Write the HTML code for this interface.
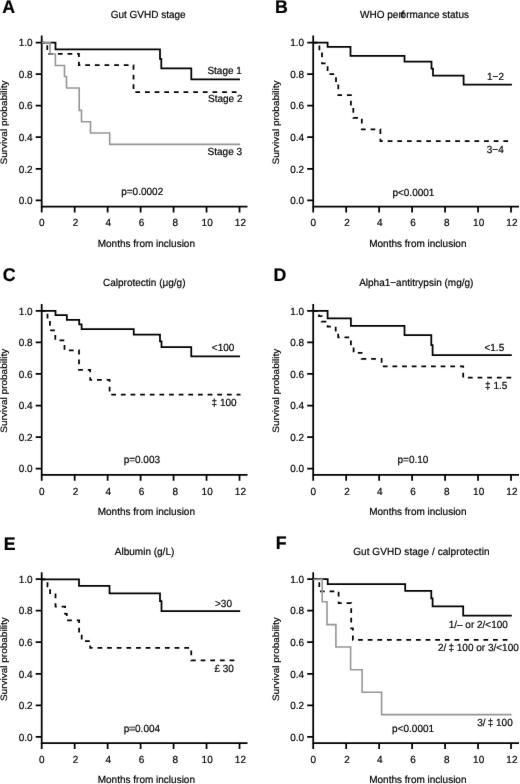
<!DOCTYPE html>
<html><head><meta charset="utf-8"><title>Survival curves</title>
<style>
html,body{margin:0;padding:0;background:#fff;}
body{width:520px;height:784px;overflow:hidden;}
svg{display:block;}
text{font-family:"Liberation Sans", sans-serif;fill:#000;stroke:#000;stroke-width:0.2;text-rendering:geometricPrecision;}
</style></head>
<body>
<svg width="520" height="784" viewBox="0 0 520 784">
<defs><filter id="soft" filterUnits="userSpaceOnUse" x="0" y="0" width="520" height="784"><feConvolveMatrix order="3" kernelMatrix="0.0100 0.0400 0.0100 0.0400 0.8000 0.0400 0.0100 0.0400 0.0100" edgeMode="none" preserveAlpha="false"/></filter></defs>
<rect width="520" height="784" fill="#fff"/>
<g filter="url(#soft)">
<g transform="translate(0,0)">
<text transform="translate(2.30 12.60) scale(1 1.03)" font-size="17.8" font-weight="bold">A</text>
<text transform="translate(148.15 18.40) scale(1 1.035)" font-size="10" text-anchor="middle">Gut GVHD stage</text>
<path d="M41.7,35.6V206.5M40.825,206.5H247.5" stroke="#000" stroke-width="1.75" fill="none"/>
<path d="M35.7,42.50H41.7M35.7,74.07H41.7M35.7,105.64H41.7M35.7,137.21H41.7M35.7,168.78H41.7M35.7,200.35H41.7M41.70,206.5V212.5M74.67,206.5V212.5M107.64,206.5V212.5M140.61,206.5V212.5M173.58,206.5V212.5M206.55,206.5V212.5M239.52,206.5V212.5" stroke="#000" stroke-width="1.75" fill="none"/>
<text transform="translate(32.55 46.30) scale(1 1.035)" font-size="10" text-anchor="end">1.0</text>
<text transform="translate(32.55 77.87) scale(1 1.035)" font-size="10" text-anchor="end">0.8</text>
<text transform="translate(32.55 109.44) scale(1 1.035)" font-size="10" text-anchor="end">0.6</text>
<text transform="translate(32.55 141.01) scale(1 1.035)" font-size="10" text-anchor="end">0.4</text>
<text transform="translate(32.55 172.58) scale(1 1.035)" font-size="10" text-anchor="end">0.2</text>
<text transform="translate(32.55 204.15) scale(1 1.035)" font-size="10" text-anchor="end">0.0</text>
<text transform="translate(41.70 226.20) scale(1 1.035)" font-size="10" text-anchor="middle">0</text>
<text transform="translate(75.47 226.20) scale(1 1.035)" font-size="10" text-anchor="middle">2</text>
<text transform="translate(108.34 226.20) scale(1 1.035)" font-size="10" text-anchor="middle">4</text>
<text transform="translate(141.51 226.20) scale(1 1.035)" font-size="10" text-anchor="middle">6</text>
<text transform="translate(175.18 226.20) scale(1 1.035)" font-size="10" text-anchor="middle">8</text>
<text transform="translate(207.15 226.20) scale(1 1.035)" font-size="10" text-anchor="middle">10</text>
<text transform="translate(240.42 226.20) scale(1 1.035)" font-size="10" text-anchor="middle">12</text>
<text transform="translate(146.35 246.80) scale(1 1.035)" font-size="10" text-anchor="middle">Months from inclusion</text>
<text transform="translate(6.90 122.50) rotate(-90) scale(1 0.93)" font-size="10" text-anchor="middle">Survival probability</text>
</g>
<g transform="translate(271.5,0)">
<text transform="translate(3.40 12.60) scale(1 1.03)" font-size="17.8" font-weight="bold">B</text>
<text transform="translate(143.00 18.40) scale(1 1.035)" font-size="10" text-anchor="middle">WHO per<tspan dx="-0.3">f</tspan><tspan dx="-3.6">o</tspan>rmance status</text>
<path d="M41.7,35.6V206.5M40.825,206.5H247.5" stroke="#000" stroke-width="1.75" fill="none"/>
<path d="M35.7,42.50H41.7M35.7,74.07H41.7M35.7,105.64H41.7M35.7,137.21H41.7M35.7,168.78H41.7M35.7,200.35H41.7M41.70,206.5V212.5M74.67,206.5V212.5M107.64,206.5V212.5M140.61,206.5V212.5M173.58,206.5V212.5M206.55,206.5V212.5M239.52,206.5V212.5" stroke="#000" stroke-width="1.75" fill="none"/>
<text transform="translate(32.55 46.30) scale(1 1.035)" font-size="10" text-anchor="end">1.0</text>
<text transform="translate(32.55 77.87) scale(1 1.035)" font-size="10" text-anchor="end">0.8</text>
<text transform="translate(32.55 109.44) scale(1 1.035)" font-size="10" text-anchor="end">0.6</text>
<text transform="translate(32.55 141.01) scale(1 1.035)" font-size="10" text-anchor="end">0.4</text>
<text transform="translate(32.55 172.58) scale(1 1.035)" font-size="10" text-anchor="end">0.2</text>
<text transform="translate(32.55 204.15) scale(1 1.035)" font-size="10" text-anchor="end">0.0</text>
<text transform="translate(41.70 226.20) scale(1 1.035)" font-size="10" text-anchor="middle">0</text>
<text transform="translate(75.47 226.20) scale(1 1.035)" font-size="10" text-anchor="middle">2</text>
<text transform="translate(108.34 226.20) scale(1 1.035)" font-size="10" text-anchor="middle">4</text>
<text transform="translate(141.51 226.20) scale(1 1.035)" font-size="10" text-anchor="middle">6</text>
<text transform="translate(175.18 226.20) scale(1 1.035)" font-size="10" text-anchor="middle">8</text>
<text transform="translate(207.15 226.20) scale(1 1.035)" font-size="10" text-anchor="middle">10</text>
<text transform="translate(240.42 226.20) scale(1 1.035)" font-size="10" text-anchor="middle">12</text>
<text transform="translate(146.35 246.80) scale(1 1.035)" font-size="10" text-anchor="middle">Months from inclusion</text>
<text transform="translate(7.50 122.50) rotate(-90) scale(1 0.93)" font-size="10" text-anchor="middle">Survival probability</text>
</g>
<g transform="translate(0,268.3)">
<text transform="translate(2.85 12.90) scale(1 1.03)" font-size="17.8" font-weight="bold">C</text>
<text transform="translate(144.25 17.35) scale(1 1.035)" font-size="10" text-anchor="middle">Calprotectin (μg/g)</text>
<path d="M41.7,35.6V206.5M40.825,206.5H247.5" stroke="#000" stroke-width="1.75" fill="none"/>
<path d="M35.7,42.50H41.7M35.7,74.07H41.7M35.7,105.64H41.7M35.7,137.21H41.7M35.7,168.78H41.7M35.7,200.35H41.7M41.70,206.5V212.5M74.67,206.5V212.5M107.64,206.5V212.5M140.61,206.5V212.5M173.58,206.5V212.5M206.55,206.5V212.5M239.52,206.5V212.5" stroke="#000" stroke-width="1.75" fill="none"/>
<text transform="translate(32.55 46.30) scale(1 1.035)" font-size="10" text-anchor="end">1.0</text>
<text transform="translate(32.55 77.87) scale(1 1.035)" font-size="10" text-anchor="end">0.8</text>
<text transform="translate(32.55 109.44) scale(1 1.035)" font-size="10" text-anchor="end">0.6</text>
<text transform="translate(32.55 141.01) scale(1 1.035)" font-size="10" text-anchor="end">0.4</text>
<text transform="translate(32.55 172.58) scale(1 1.035)" font-size="10" text-anchor="end">0.2</text>
<text transform="translate(32.55 204.15) scale(1 1.035)" font-size="10" text-anchor="end">0.0</text>
<text transform="translate(41.70 226.20) scale(1 1.035)" font-size="10" text-anchor="middle">0</text>
<text transform="translate(75.47 226.20) scale(1 1.035)" font-size="10" text-anchor="middle">2</text>
<text transform="translate(108.34 226.20) scale(1 1.035)" font-size="10" text-anchor="middle">4</text>
<text transform="translate(141.51 226.20) scale(1 1.035)" font-size="10" text-anchor="middle">6</text>
<text transform="translate(175.18 226.20) scale(1 1.035)" font-size="10" text-anchor="middle">8</text>
<text transform="translate(207.15 226.20) scale(1 1.035)" font-size="10" text-anchor="middle">10</text>
<text transform="translate(240.42 226.20) scale(1 1.035)" font-size="10" text-anchor="middle">12</text>
<text transform="translate(146.35 246.80) scale(1 1.035)" font-size="10" text-anchor="middle">Months from inclusion</text>
<text transform="translate(6.90 122.50) rotate(-90) scale(1 0.93)" font-size="10" text-anchor="middle">Survival probability</text>
</g>
<g transform="translate(271.5,268.3)">
<text transform="translate(1.95 12.30) scale(1 1.03)" font-size="17.8" font-weight="bold">D</text>
<text transform="translate(144.75 17.60) scale(1 1.035)" font-size="10" text-anchor="middle">Alpha1−antitrypsin (mg/g)</text>
<path d="M41.7,35.6V206.5M40.825,206.5H247.5" stroke="#000" stroke-width="1.75" fill="none"/>
<path d="M35.7,42.50H41.7M35.7,74.07H41.7M35.7,105.64H41.7M35.7,137.21H41.7M35.7,168.78H41.7M35.7,200.35H41.7M41.70,206.5V212.5M74.67,206.5V212.5M107.64,206.5V212.5M140.61,206.5V212.5M173.58,206.5V212.5M206.55,206.5V212.5M239.52,206.5V212.5" stroke="#000" stroke-width="1.75" fill="none"/>
<text transform="translate(32.55 46.30) scale(1 1.035)" font-size="10" text-anchor="end">1.0</text>
<text transform="translate(32.55 77.87) scale(1 1.035)" font-size="10" text-anchor="end">0.8</text>
<text transform="translate(32.55 109.44) scale(1 1.035)" font-size="10" text-anchor="end">0.6</text>
<text transform="translate(32.55 141.01) scale(1 1.035)" font-size="10" text-anchor="end">0.4</text>
<text transform="translate(32.55 172.58) scale(1 1.035)" font-size="10" text-anchor="end">0.2</text>
<text transform="translate(32.55 204.15) scale(1 1.035)" font-size="10" text-anchor="end">0.0</text>
<text transform="translate(41.70 226.20) scale(1 1.035)" font-size="10" text-anchor="middle">0</text>
<text transform="translate(75.47 226.20) scale(1 1.035)" font-size="10" text-anchor="middle">2</text>
<text transform="translate(108.34 226.20) scale(1 1.035)" font-size="10" text-anchor="middle">4</text>
<text transform="translate(141.51 226.20) scale(1 1.035)" font-size="10" text-anchor="middle">6</text>
<text transform="translate(175.18 226.20) scale(1 1.035)" font-size="10" text-anchor="middle">8</text>
<text transform="translate(207.15 226.20) scale(1 1.035)" font-size="10" text-anchor="middle">10</text>
<text transform="translate(240.42 226.20) scale(1 1.035)" font-size="10" text-anchor="middle">12</text>
<text transform="translate(146.35 246.80) scale(1 1.035)" font-size="10" text-anchor="middle">Months from inclusion</text>
<text transform="translate(7.50 122.50) rotate(-90) scale(1 0.93)" font-size="10" text-anchor="middle">Survival probability</text>
</g>
<g transform="translate(0,536.6)">
<text transform="translate(3.75 13.25) scale(1 1.03)" font-size="17.8" font-weight="bold">E</text>
<text transform="translate(144.55 18.40) scale(1 1.035)" font-size="10" text-anchor="middle">Albumin (g/L)</text>
<path d="M41.7,35.6V206.5M40.825,206.5H247.5" stroke="#000" stroke-width="1.75" fill="none"/>
<path d="M35.7,42.50H41.7M35.7,74.07H41.7M35.7,105.64H41.7M35.7,137.21H41.7M35.7,168.78H41.7M35.7,200.35H41.7M41.70,206.5V212.5M74.67,206.5V212.5M107.64,206.5V212.5M140.61,206.5V212.5M173.58,206.5V212.5M206.55,206.5V212.5M239.52,206.5V212.5" stroke="#000" stroke-width="1.75" fill="none"/>
<text transform="translate(32.55 46.30) scale(1 1.035)" font-size="10" text-anchor="end">1.0</text>
<text transform="translate(32.55 77.87) scale(1 1.035)" font-size="10" text-anchor="end">0.8</text>
<text transform="translate(32.55 109.44) scale(1 1.035)" font-size="10" text-anchor="end">0.6</text>
<text transform="translate(32.55 141.01) scale(1 1.035)" font-size="10" text-anchor="end">0.4</text>
<text transform="translate(32.55 172.58) scale(1 1.035)" font-size="10" text-anchor="end">0.2</text>
<text transform="translate(32.55 204.15) scale(1 1.035)" font-size="10" text-anchor="end">0.0</text>
<text transform="translate(41.70 226.20) scale(1 1.035)" font-size="10" text-anchor="middle">0</text>
<text transform="translate(75.47 226.20) scale(1 1.035)" font-size="10" text-anchor="middle">2</text>
<text transform="translate(108.34 226.20) scale(1 1.035)" font-size="10" text-anchor="middle">4</text>
<text transform="translate(141.51 226.20) scale(1 1.035)" font-size="10" text-anchor="middle">6</text>
<text transform="translate(175.18 226.20) scale(1 1.035)" font-size="10" text-anchor="middle">8</text>
<text transform="translate(207.15 226.20) scale(1 1.035)" font-size="10" text-anchor="middle">10</text>
<text transform="translate(240.42 226.20) scale(1 1.035)" font-size="10" text-anchor="middle">12</text>
<text transform="translate(146.35 246.80) scale(1 1.035)" font-size="10" text-anchor="middle">Months from inclusion</text>
<text transform="translate(6.90 122.50) rotate(-90) scale(1 0.93)" font-size="10" text-anchor="middle">Survival probability</text>
</g>
<g transform="translate(271.5,536.6)">
<text transform="translate(4.30 12.80) scale(1 1.03)" font-size="17.8" font-weight="bold">F</text>
<text transform="translate(149.85 17.90) scale(1 1.035)" font-size="10" text-anchor="middle"><tspan letter-spacing="0.065">Gut GVHD stage / calprotectin</tspan></text>
<path d="M41.7,35.6V206.5M40.825,206.5H247.5" stroke="#000" stroke-width="1.75" fill="none"/>
<path d="M35.7,42.50H41.7M35.7,74.07H41.7M35.7,105.64H41.7M35.7,137.21H41.7M35.7,168.78H41.7M35.7,200.35H41.7M41.70,206.5V212.5M74.67,206.5V212.5M107.64,206.5V212.5M140.61,206.5V212.5M173.58,206.5V212.5M206.55,206.5V212.5M239.52,206.5V212.5" stroke="#000" stroke-width="1.75" fill="none"/>
<text transform="translate(32.55 46.30) scale(1 1.035)" font-size="10" text-anchor="end">1.0</text>
<text transform="translate(32.55 77.87) scale(1 1.035)" font-size="10" text-anchor="end">0.8</text>
<text transform="translate(32.55 109.44) scale(1 1.035)" font-size="10" text-anchor="end">0.6</text>
<text transform="translate(32.55 141.01) scale(1 1.035)" font-size="10" text-anchor="end">0.4</text>
<text transform="translate(32.55 172.58) scale(1 1.035)" font-size="10" text-anchor="end">0.2</text>
<text transform="translate(32.55 204.15) scale(1 1.035)" font-size="10" text-anchor="end">0.0</text>
<text transform="translate(41.70 226.20) scale(1 1.035)" font-size="10" text-anchor="middle">0</text>
<text transform="translate(75.47 226.20) scale(1 1.035)" font-size="10" text-anchor="middle">2</text>
<text transform="translate(108.34 226.20) scale(1 1.035)" font-size="10" text-anchor="middle">4</text>
<text transform="translate(141.51 226.20) scale(1 1.035)" font-size="10" text-anchor="middle">6</text>
<text transform="translate(175.18 226.20) scale(1 1.035)" font-size="10" text-anchor="middle">8</text>
<text transform="translate(207.15 226.20) scale(1 1.035)" font-size="10" text-anchor="middle">10</text>
<text transform="translate(240.42 226.20) scale(1 1.035)" font-size="10" text-anchor="middle">12</text>
<text transform="translate(146.35 246.80) scale(1 1.035)" font-size="10" text-anchor="middle">Months from inclusion</text>
<text transform="translate(7.50 122.50) rotate(-90) scale(1 0.93)" font-size="10" text-anchor="middle">Survival probability</text>
</g>
<path d="M41.7,42.5H55.5V49.3H160V58.75H161.3V68.2H191.3V79.1H240" stroke="#000" stroke-width="1.75" fill="none" transform="translate(0 0.15)"/>
<path d="M41.7,42.5H47.3V53.8H78.9V65H133.5V92H240" stroke="#000" stroke-width="1.75" fill="none" transform="translate(0 0.15)" stroke-dasharray="4.75 4.89" stroke-dashoffset="1.44"/>
<path d="M41.7,42.5H50V53.8H55.4V65.2H64.5V76.3H66.5V87.7H79.2V110.1H81.5V121.5H90.5V132.7H109.7V144.1H240" stroke="#969696" stroke-width="1.6" fill="none" transform="translate(0 0.25)"/>
<path d="M313.2,42.5H327.6V46.8H350.5V55.8H404.5V61.5H431.5V68.5H433V75.4H463.6V84.4H511.9" stroke="#000" stroke-width="1.75" fill="none" transform="translate(0 0.15)"/>
<path d="M313.2,42.5H319.4V51.5H322V63.3H327.6V73.9H336V83H338.3V95H350.9V106.8H353.3V117.6H361.8V129.2H380.4V141H511.9" stroke="#000" stroke-width="1.75" fill="none" transform="translate(0 0.15)" stroke-dasharray="4.75 4.89" stroke-dashoffset="0.54"/>
<path d="M41.8,310.8H55.5V315H66.85V319.65H79.2V324.3H81.6V329H133.75V334.4H160V341.2H161.5V346.9H191.25V356.1H240" stroke="#000" stroke-width="1.75" fill="none" transform="translate(0 0.15)"/>
<path d="M41.8,310.8H47.5V319.5H49.9V330.3H55.3V340.2H64.5V350.1H79V369.8H90.2V379.8H109.6V394.5H240.5" stroke="#000" stroke-width="1.75" fill="none" transform="translate(0 0.15)" stroke-dasharray="4.75 4.89" stroke-dashoffset="1.09"/>
<path d="M313.2,310.8H327.6V318.1H350.9V325.8H404.5V335H431.3V345H432.6V355H511.8" stroke="#000" stroke-width="1.75" fill="none" transform="translate(0 0.15)"/>
<path d="M313.2,310.8H319V316H321.6V321.4H327.6V326.5H335.7V331.7H338.2V337.1H350.9V345.2H353.6V352.65H361.6V358.6H381.6V366.2H463.2V377.5H511.8" stroke="#000" stroke-width="1.75" fill="none" transform="translate(0 0.15)" stroke-dasharray="4.75 4.89" stroke-dashoffset="0.29"/>
<path d="M42,579.2H79V585.6H109.5V593.1H160V601H161.5V611H240.2" stroke="#000" stroke-width="1.75" fill="none" transform="translate(0 0.15)"/>
<path d="M42,579.2H47.5V586.2H50.1V593H55.5V606.5H65.1V613.6H66.8V620.3H79.1V633.5H81.7V641H90.2V647.8H191.25V660.3H235" stroke="#000" stroke-width="1.75" fill="none" transform="translate(0 0.15)" stroke-dasharray="4.75 4.89" stroke-dashoffset="1.24"/>
<path d="M313.3,579H327.7V584H405.2V590.7H431.3V598.3H432.6V606.1H463.2V615.5H511.8" stroke="#000" stroke-width="1.75" fill="none" transform="translate(0 0.15)"/>
<path d="M313.3,579H319.3V591.1H338.6V603H351.2V628.3H352.9V639.7H508" stroke="#000" stroke-width="1.75" fill="none" transform="translate(0 0.15)" stroke-dasharray="4.75 4.89" stroke-dashoffset="0.54"/>
<path d="M313.3,579H322.2V601.3H327H327V624.1H335.9V646.5H350.6V669.3H362.1V691.7H381.6V714.1H511.6" stroke="#969696" stroke-width="1.6" fill="none" transform="translate(0 0.5)"/>
<text transform="translate(241.90 73.90) scale(1 1.035)" font-size="10" text-anchor="end">Stage 1</text>
<text transform="translate(242.50 102.30) scale(1 1.035)" font-size="10" text-anchor="end">Stage 2</text>
<text transform="translate(242.05 155.00) scale(1 1.035)" font-size="10" text-anchor="end">Stage 3</text>
<text transform="translate(142.20 195.10) scale(1 1.035)" font-size="10" text-anchor="middle">p=0.0002</text>
<text transform="translate(504.00 80.20) scale(1 1.035)" font-size="10" text-anchor="end">1−2</text>
<text transform="translate(503.70 152.70) scale(1 1.035)" font-size="10" text-anchor="end">3−4</text>
<text transform="translate(413.40 195.50) scale(1 1.035)" font-size="10" text-anchor="middle">p&lt;0.0001</text>
<text transform="translate(234.40 351.30) scale(1 1.035)" font-size="10" text-anchor="end">&lt;100</text>
<text transform="translate(236.60 406.10) scale(1 1.035)" font-size="10" text-anchor="end">‡ 100</text>
<text transform="translate(141.85 463.20) scale(1 1.035)" font-size="10" text-anchor="middle">p=0.003</text>
<text transform="translate(504.20 351.25) scale(1 1.035)" font-size="10" text-anchor="end">&lt;1.5</text>
<text transform="translate(507.30 389.25) scale(1 1.035)" font-size="10" text-anchor="end">‡ 1.5</text>
<text transform="translate(413.00 463.20) scale(1 1.035)" font-size="10" text-anchor="middle">p=0.10</text>
<text transform="translate(232.00 606.70) scale(1 1.035)" font-size="10" text-anchor="end">&gt;30</text>
<text transform="translate(233.90 671.50) scale(1 1.035)" font-size="10" text-anchor="end">£ 30</text>
<text transform="translate(141.85 731.85) scale(1 1.035)" font-size="10" text-anchor="middle">p<tspan fill="#7a7a7a" stroke="#7a7a7a" stroke-width="0.9">=</tspan>0.004</text>
<text transform="translate(507.90 627.85) scale(1 1.035)" font-size="10" text-anchor="end">1/– or 2/&lt;100</text>
<text transform="translate(518.80 651.20) scale(1 1.035)" font-size="10" text-anchor="end">2/<tspan dx="2.2">‡</tspan> 100 or 3/&lt;100</text>
<text transform="translate(512.70 726.00) scale(1 1.035)" font-size="10" text-anchor="end">3/<tspan dx="2.2">‡</tspan> 100</text>
<text transform="translate(413.10 731.90) scale(1 1.035)" font-size="10" text-anchor="middle">p&lt;0.0001</text>
</g>
</svg>
</body></html>
